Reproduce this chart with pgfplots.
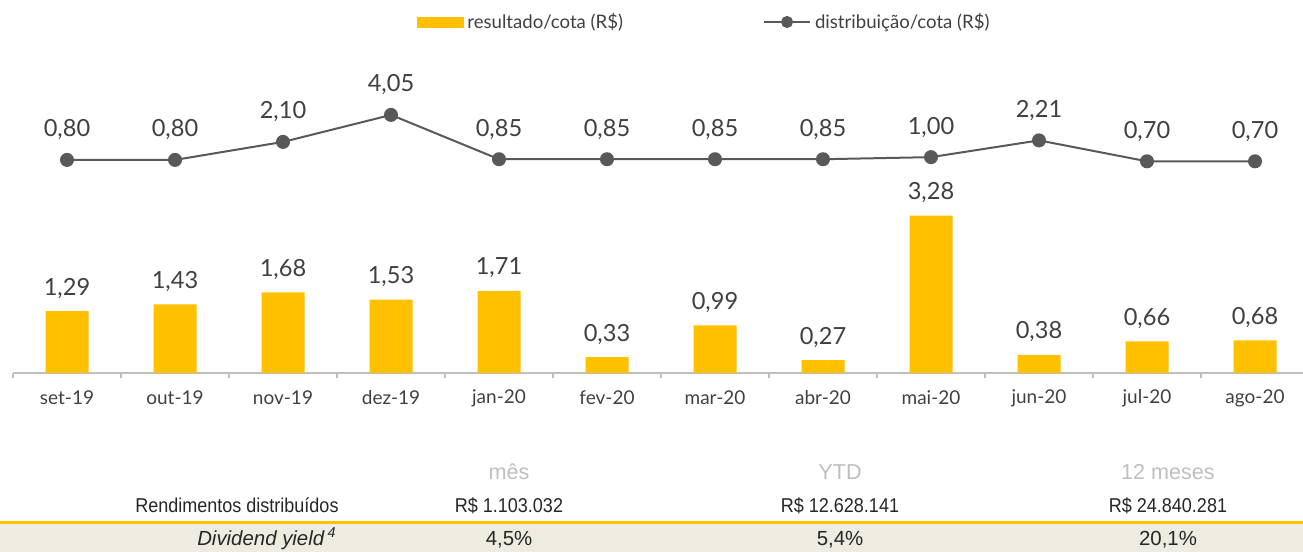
\documentclass[border=0pt]{standalone}
\usepackage{pgfplots}
\pgfplotsset{compat=1.18}
\usepackage{fontspec}
\setmainfont{Lato}
\newfontfamily\tabfont[FakeStretch=0.9]{Liberation Sans}
\newfontfamily\tabfontw{Liberation Sans}
\definecolor{baryellow}{HTML}{FFC000}
\definecolor{linegray}{HTML}{595959}
\definecolor{txtgray}{HTML}{404040}
\definecolor{axgray}{HTML}{BFBFBF}
\definecolor{hdrgray}{HTML}{BFBFBF}
\definecolor{beige}{HTML}{EEECE1}
\begin{document}
\begin{tikzpicture}
\useasboundingbox (0,0) rectangle (651.5pt,276pt);
% table
\fill[beige] (0,0) rectangle (651.5pt,14.3pt);
\draw[baryellow, line width=1.2pt] (0,14.7pt) -- (651.5pt,14.7pt);
\begin{scope}[every node/.style={font=\tabfont\fontsize{10}{12}\selectfont, inner sep=0pt}]
\node[anchor=mid, text=hdrgray, font=\tabfontw\fontsize{10.8}{12}\selectfont] at (254.5pt,39pt) {mês};
\node[anchor=mid, text=hdrgray, font=\tabfontw\fontsize{10.8}{12}\selectfont] at (420pt,39pt) {YTD};
\node[anchor=mid, text=hdrgray, font=\tabfontw\fontsize{10.8}{12}\selectfont] at (584pt,39pt) {12 meses};
\node[anchor=mid, text=black!85] at (118.5pt,22.5pt) {Rendimentos distribuídos};
\node[anchor=mid, text=black!85] at (254.5pt,22.5pt) {R\$ 1.103.032};
\node[anchor=mid, text=black!85] at (420pt,22.5pt) {R\$ 12.628.141};
\node[anchor=mid, text=black!85] at (584pt,22.5pt) {R\$ 24.840.281};
\begin{scope}[every node/.style={font=\tabfontw\fontsize{10.2}{12}\selectfont, inner sep=0pt}]
\node[anchor=mid east, text=black!85] at (168.5pt,6pt) {\itshape Dividend yield\,\textsuperscript{4}};
\node[anchor=mid, text=black!85] at (254.5pt,6pt) {4,5\%};
\node[anchor=mid, text=black!85] at (420pt,6pt) {5,4\%};
\node[anchor=mid, text=black!85] at (584pt,6pt) {20,1\%};
\end{scope}
\end{scope}
% bars
\begin{axis}[
  at={(6.5pt,89.5pt)}, anchor=south west,
  x=54pt, y=24pt, xmin=-0.5, xmax=11.44, ymin=0, ymax=4,
  axis x line*=bottom, axis y line=none,
  x axis line style={-, draw=axgray, line width=1pt},
  xtick={0,...,11},
  xticklabels={set-19,out-19,nov-19,dez-19,jan-20,fev-20,mar-20,abr-20,mai-20,jun-20,jul-20,ago-20},
  major tick length=0pt,
  minor xtick={-0.5,0.5,...,10.5},
  minor tick length=2.5pt,
  tick align=outside,
  every minor tick/.style={draw=axgray, line width=1pt},
  xticklabel style={font=\fontsize{9.5}{11}\selectfont, text=txtgray, anchor=center, yshift=-12.5pt},
  clip=false,
  /pgf/number format/.cd, fixed, fixed zerofill, precision=2, use comma, assume math mode=true,
  /pgfplots/.cd,
]
\addplot[ybar, bar width=21.5pt, fill=baryellow, draw=none,
  nodes near coords,
  every node near coord/.append style={font=\fontsize{11.8}{13}\selectfont, text=txtgray, anchor=base, yshift=8pt}]
  coordinates {(0,1.29) (1,1.43) (2,1.68) (3,1.53) (4,1.71) (5,0.33) (6,0.99) (7,0.27) (8,3.28) (9,0.38) (10,0.66) (11,0.68)};
\end{axis}
% line
\begin{axis}[
  at={(6.5pt,190.5pt)}, anchor=south west,
  x=54pt, y=6.925pt, xmin=-0.5, xmax=11.44, ymin=0, ymax=5,
  hide axis, clip=false,
  legend columns=2,
  legend style={at={(0.5367,2.152)}, anchor=center, draw=none, fill=none,
    font=\fontsize{9.3}{11}\selectfont, text=txtgray,
    /tikz/every even column/.append style={column sep=68pt}},
  /pgf/number format/.cd, fixed, fixed zerofill, precision=2, use comma, assume math mode=true,
  /pgfplots/.cd,
]
\addlegendimage{legend image code/.code={\fill[baryellow] (0pt,-2.5pt) rectangle (23pt,2.5pt);}}
\addlegendentry{resultado/cota (R\$)}
\addplot[linegray, line width=1pt, mark=*, mark size=3pt, mark options={fill=linegray, draw=linegray},
  legend image code/.code={\draw[linegray, line width=1pt, mark=*, mark size=2.5pt, mark options={fill=linegray, draw=linegray}, mark repeat=2, mark phase=2] plot coordinates {(0pt,0pt) (11.5pt,0pt) (23pt,0pt)};},
  nodes near coords,
  every node near coord/.append style={font=\fontsize{11.8}{13}\selectfont, text=txtgray, anchor=base, yshift=11.5pt}]
  coordinates {(0,0.80) (1,0.80) (2,2.10) (3,4.05) (4,0.85) (5,0.85) (6,0.85) (7,0.85) (8,1.00) (9,2.21) (10,0.70) (11,0.70)};
\addlegendentry{distribuição/cota (R\$)}
\end{axis}
\end{tikzpicture}
\end{document}
